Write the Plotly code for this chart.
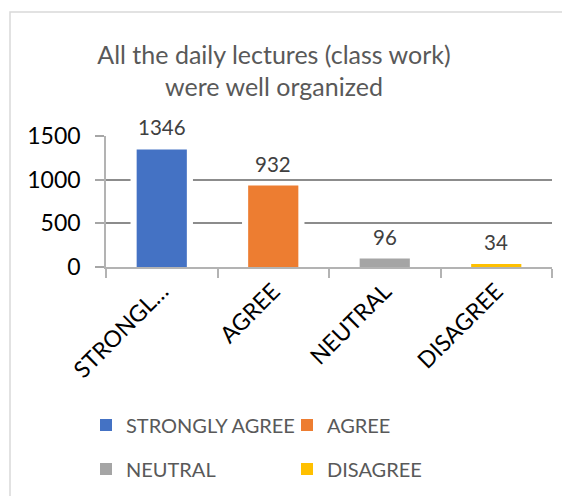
import plotly.graph_objects as go

categories = ["STRONGLY AGREE", "AGREE", "NEUTRAL", "DISAGREE"]
values = [1346, 932, 96, 34]
tick_labels = ["STRONGL…", "AGREE", "NEUTRAL", "DISAGREE"]
colors = ["#4472C4", "#ED7D31", "#A5A5A5", "#FFC000"]
y_ticks = [0, 500, 1000, 1500]
title_text = "All the daily lectures (class work)<br>were well organized"

# the page body adds an 8px margin; size the figure so it ends at the window edge
OFF = 8
W, H = 570 - OFF, 496 - OFF
ML, MR, MT, MB = 106 - OFF, 18, 136 - OFF, 229
PW, PH = W - ML - MR, H - MT - MB
FONT = "Lato"

fig = go.Figure()

# white halo behind bars (hides gridlines around each bar)
fig.add_trace(go.Bar(x=categories, y=values, width=0.56,
                     marker=dict(color="white", line=dict(width=0)),
                     showlegend=False, hoverinfo="skip"))

legend_pos = [(86, 425), (287, 425), (86, 469), (287, 469)]
for i, (c, v, col) in enumerate(zip(categories, values, colors)):
    lg = "legend" if i == 0 else f"legend{i+1}"
    fig.add_trace(go.Bar(x=[c], y=[v], name=c, width=0.45,
                         marker=dict(color=col, line=dict(width=0)),
                         legend=lg))

for c, v in zip(categories, values):
    fig.add_annotation(x=c, y=v, text=str(v), showarrow=False,
                       yanchor="bottom", yshift=8,
                       font=dict(family=FONT, size=20.5, color="#404040"))

legends = {}
for i, (px, py) in enumerate(legend_pos):
    key = "legend" if i == 0 else f"legend{i+1}"
    legends[key] = dict(x=(px - OFF) / W, y=1 - (py - OFF) / H,
                        xref="container", yref="container",
                        xanchor="left", yanchor="middle", orientation="h",
                        bgcolor="rgba(0,0,0,0)",
                        font=dict(family=FONT, size=20, color="#595959"))

fig.update_layout(
    width=W, height=H,
    margin=dict(l=ML, r=MR, t=MT, b=MB, pad=0),
    paper_bgcolor="white", plot_bgcolor="white",
    barmode="overlay",
    title=dict(text=title_text, x=(274 - OFF) / W, xref="container", xanchor="center",
               y=1 - (63.5 - OFF) / H, yref="container", yanchor="middle",
               font=dict(family=FONT, size=25, color="#595959")),
    xaxis=dict(type="category", categoryorder="array", categoryarray=categories,
               tickvals=categories, ticktext=tick_labels, tickangle=-45,
               range=[-0.5, 3.5], showline=True, linecolor="#b3b3b3", linewidth=1.6,
               ticks="outside", tickson="boundaries", ticklen=9, tickcolor="#b3b3b3",
               tickwidth=1.6, showgrid=False,
               tickfont=dict(family=FONT, size=23, color="#000000")),
    yaxis=dict(range=[0, 1500], tickvals=y_ticks, showgrid=True, gridcolor="#8c8c8c",
               gridwidth=2, showline=True, linecolor="#b3b3b3", linewidth=1.6,
               ticks="outside", ticklen=9, tickcolor="#a6a6a6", tickwidth=1.6,
               zeroline=False, ticklabelstandoff=10,
               tickfont=dict(family=FONT, size=23, color="#000000")),
    shapes=[dict(type="rect", xref="paper", yref="paper",
                 x0=(10 - OFF - ML) / PW, x1=(W + 10 - ML) / PW,
                 y0=-(H + 10 - MT - PH) / PH, y1=(MT + PH - (12 - OFF)) / PH,
                 line=dict(color="#d9d9d9", width=1.5), layer="below")],
    showlegend=True,
    **legends,
)

fig.write_html("out.html")
